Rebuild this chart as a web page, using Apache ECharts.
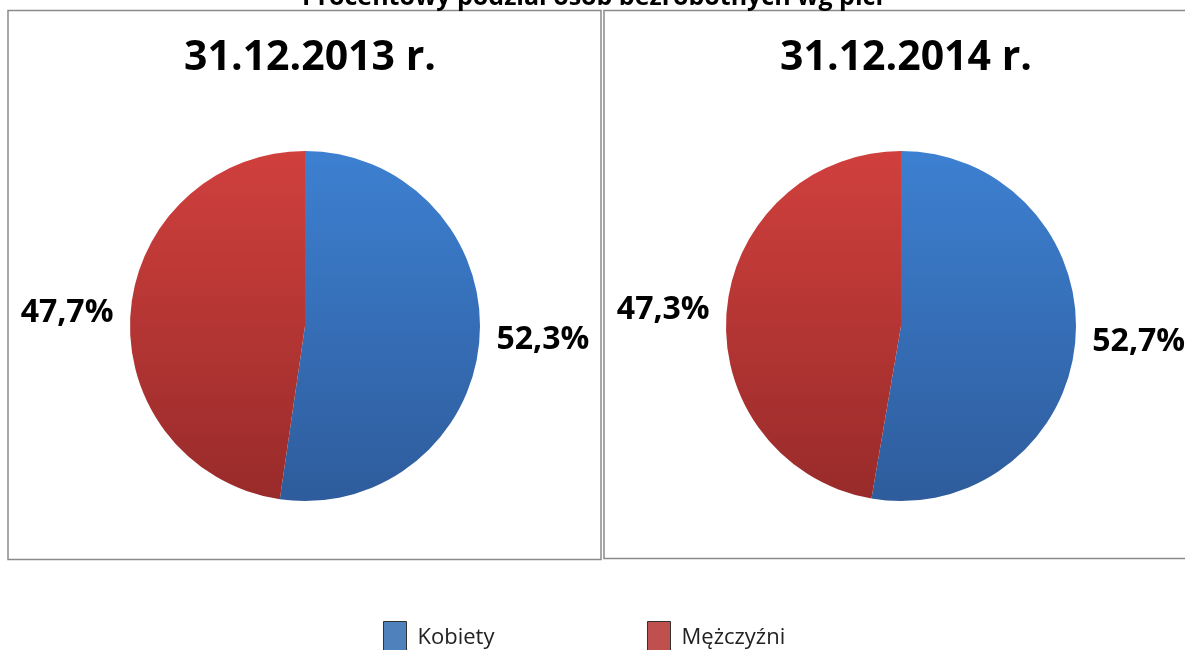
<!DOCTYPE html>
<html>
<head>
<meta charset="utf-8">
<script src="https://cdn.jsdelivr.net/npm/echarts@6/dist/echarts.min.js"></script>
<style>
  html, body { margin: 0; padding: 0; background: #fff; }
  #chart { width: 1185px; height: 650px; }
</style>
</head>
<body>
<div id="chart"></div>
<script>
// dane
var categories = ["Kobiety", "Mężczyźni"];
var years = ["31.12.2013 r.", "31.12.2014 r."];
var values2013 = [52.3, 47.7];
var values2014 = [52.7, 47.3];

var chart = echarts.init(document.getElementById("chart"));

var fontFamily = "'Open Sans', sans-serif";
var sliceColors = [
  new echarts.graphic.LinearGradient(0, 0, 0, 1, [
    { offset: 0, color: "#3d80d1" },
    { offset: 1, color: "#2e5c9c" }
  ]),
  new echarts.graphic.LinearGradient(0, 0, 0, 1, [
    { offset: 0, color: "#d0403d" },
    { offset: 1, color: "#982b2a" }
  ])
];
var legendColors = ["#4f81bd", "#c0504d"];

function pieData(values) {
  return categories.map(function (name, i) {
    return { name: name, value: values[i], itemStyle: { color: sliceColors[i] } };
  });
}

function pieSeries(values, cx) {
  return {
    type: "pie",
    center: [cx, 326],
    radius: 175,
    startAngle: 90,
    clockwise: true,
    silent: true,
    data: pieData(values),
    label: {
      show: true,
      position: "outside",
      overflow: "none",
      formatter: function (p) {
        return String(p.value).replace(".", ",") + "%";
      },
      color: "#000",
      fontFamily: fontFamily,
      fontWeight: "bold",
      fontSize: 32
    },
    labelLine: { show: false, length: 12, length2: 0 },
    emphasis: { disabled: true }
  };
}

function legendFor(i, left) {
  return {
    left: left,
    top: 621,
    padding: 0,
    itemWidth: 23,
    itemHeight: 32,
    icon: "rect",
    selectedMode: false,
    itemStyle: { borderColor: "#333", borderWidth: 1 },
    textStyle: { fontFamily: fontFamily, fontSize: 22, color: "#222", padding: [0, 0, 0, 6] },
    data: [{ name: categories[i], itemStyle: { color: legendColors[i] } }]
  };
}

var option = {
  backgroundColor: "#fff",
  animation: false,
  title: [
    {
      text: "Procentowy podział osób bezrobotnych wg płci",
      left: "center",
      top: -20,
      textStyle: { fontFamily: fontFamily, fontWeight: "bold", fontSize: 25, color: "#000" }
    },
    {
      text: years[0],
      left: 305,
      textAlign: "center",
      top: 33,
      textStyle: { fontFamily: fontFamily, fontWeight: "bold", fontSize: 41, color: "#000" }
    },
    {
      text: years[1],
      left: 901,
      textAlign: "center",
      top: 33,
      textStyle: { fontFamily: fontFamily, fontWeight: "bold", fontSize: 41, color: "#000" }
    }
  ],
  graphic: [
    {
      type: "rect",
      shape: { x: 8, y: 10.5, width: 593, height: 549 },
      style: { fill: "none", stroke: "#8a8a8a", lineWidth: 1.5 },
      silent: true
    },
    {
      type: "rect",
      shape: { x: 604, y: 10.5, width: 600, height: 548 },
      style: { fill: "none", stroke: "#8a8a8a", lineWidth: 1.5 },
      silent: true
    }
  ],
  legend: [legendFor(0, 383), legendFor(1, 647)],
  series: [pieSeries(values2013, 305), pieSeries(values2014, 901)]
};

chart.setOption(option);
</script>
</body>
</html>
